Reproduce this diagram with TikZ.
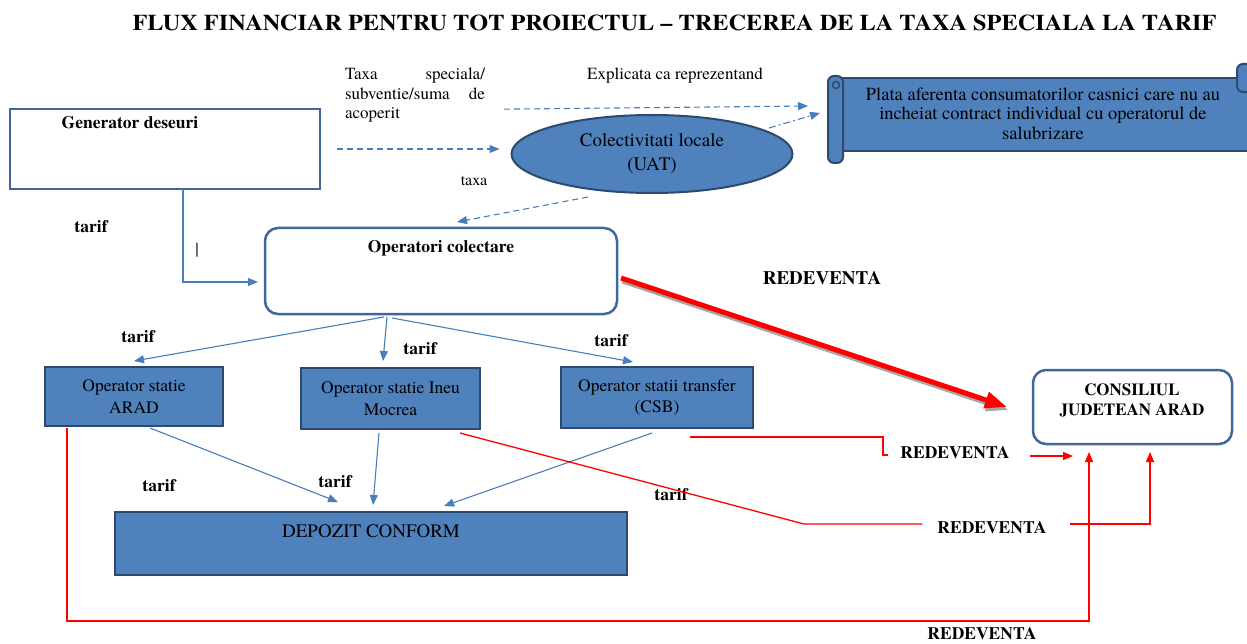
\documentclass[tikz,border=0pt]{standalone}
\usepackage{fontspec}
\setmainfont{TeX Gyre Termes}
\usepackage{graphicx}
\usetikzlibrary{shapes.geometric,arrows.meta}
\definecolor{boxblue}{HTML}{4F81BD}
\definecolor{boxedge}{HTML}{2C4A70}
\definecolor{roundedge}{HTML}{41669A}
\definecolor{lineblue}{HTML}{4A7EBB}
\definecolor{redline}{HTML}{FF0000}
\newcommand\fsz[2]{\fontsize{#1pt}{#2pt}\selectfont}
\tikzset{
  opbox/.style={draw=boxedge, fill=boxblue, line width=2.5pt, rectangle, inner sep=0pt, outer sep=0pt, align=center, font=\fsz{17.5}{21.5}},
  rbox/.style={draw=roundedge, line width=2.5pt, rounded corners=13pt, fill=white, rectangle, inner sep=0pt, outer sep=0pt},
  lbl/.style={inner sep=0pt, outer sep=0pt, font=\fsz{17.5}{21}\bfseries},
  txt/.style={inner sep=0pt, outer sep=0pt, font=\fsz{17}{19.5}},
  flow/.style={draw=lineblue, line width=1.1pt, -{Triangle[length=10pt,width=8pt]}},
  dflow/.style={flow, dash pattern=on 6pt off 4pt},
  ddflow/.style={flow, dash pattern=on 7pt off 3pt on 2pt off 3pt},
  rline/.style={draw=redline, line width=1.3pt},
  rflow/.style={rline, -{Triangle[length=10pt,width=8pt]}},
  scrollst/.style={draw=boxedge, fill=boxblue, line width=2pt},
}
\begin{document}
\begin{tikzpicture}[x=1pt,y=-1pt]
\useasboundingbox[fill=white] (0,0) rectangle (1247,644);

% title
\node[inner sep=0pt, font=\fsz{22.5}{26}\bfseries] (title) at (674.5,23)
  {\scalebox{1.08}[1]{FLUX FINANCIAR PENTRU TOT PROIECTUL – TRECEREA DE LA TAXA SPECIALA LA TARIF}};

% generator
\node[draw=roundedge, line width=2.5pt, rectangle, inner sep=0pt, outer sep=0pt,
      minimum width=310pt, minimum height=80pt, anchor=north west] (gen) at (10,109) {};
\node[lbl] (gentxt) at (130,123) {Generator deseuri};

% taxa paragraph
\node[txt, text width=140pt, align=left, anchor=north west] (tx) at (345,68)
  {Taxa\hfill speciala/\\subventie/suma\hfill de\\acoperit};
\node[txt] (expl) at (675,76) {Explicata ca reprezentand};
\node[txt, font=\fsz{16}{19}] (taxa) at (474,181) {taxa};

% UAT ellipse
\node[ellipse, draw=boxedge, fill=boxblue, line width=2pt, minimum width=281pt, minimum height=78pt,
      inner sep=0pt, outer sep=0pt, align=center, font=\fsz{19}{24}] (uat) at (652,154)
  {Colectivitati locale\\(UAT)};

% scroll
\node[minimum width=419pt, minimum height=87pt, anchor=north west, inner sep=0pt, outer sep=0pt] (scroll) at (828,76) {};
\draw[scrollst] (836,78) rectangle (1252,151);
\draw[scrollst, rounded corners=6pt] (1237,64) rectangle (1262,92);
\draw[scrollst, rounded corners=6pt] (828,76) rectangle (843,163);
\draw[draw=boxedge, line width=1.5pt] (836,85) circle (3.5pt);
\node[txt, align=center, font=\fsz{18.5}{19.5}] (plata) at (1043,113.5)
  {Plata aferenta consumatorilor casnici care nu au\\incheiat contract individual cu operatorul de\\salubrizare};

% operatori colectare
\node[rbox, minimum width=352pt, minimum height=86pt, anchor=north west] (opcol) at (265,228) {};
\node[lbl] (opcoltxt) at (441,248) {Operatori colectare};

% operator boxes
\node[opbox, minimum width=178pt, minimum height=59pt, anchor=north west] (arad) at (45,367) {Operator statie\\ARAD};
\node[opbox, minimum width=179pt, minimum height=61pt, anchor=north west] (ineu) at (301,368) {Operator statie Ineu\\Mocrea};
\node[opbox, minimum width=192pt, minimum height=61pt, anchor=north west] (csb) at (561,367) {Operator statii transfer\\(CSB)};

% depozit
\node[opbox, minimum width=512pt, minimum height=63pt, anchor=north west] (dep) at (115,512) {};
\node[txt, font=\fsz{19}{22}] (deptxt) at (371,531) {DEPOZIT CONFORM};

% consiliul
\node[rbox, minimum width=199pt, minimum height=74pt, anchor=north west] (cj) at (1033,370) {};
\node[lbl, align=center, font=\fsz{17}{19.5}\bfseries] (cjtxt) at (1132,400.5) {CONSILIUL\\JUDETEAN ARAD};

% labels
\node[lbl] (t1) at (91,227) {tarif};
\node[lbl] (t2) at (138,337) {tarif};
\node[lbl] (t3) at (420,349) {tarif};
\node[lbl] (t4) at (611,341) {tarif};
\node[lbl] (t5) at (159,486) {tarif};
\node[lbl] (t6) at (335,482) {tarif};
\node[lbl] (t7) at (671,495) {tarif};
\node[txt] (cursor) at (197,250) {|};
\node[lbl, font=\fsz{19}{22}\bfseries] (r1) at (822,278) {REDEVENTA};
\node[lbl] (r2) at (955,453) {REDEVENTA};
\node[lbl] (r3) at (992,528) {REDEVENTA};
\node[lbl] (r4) at (982,634) {REDEVENTA};

% dashed flows
\draw[dflow] ([xshift=17pt]gen.east) -- ([xshift=-12pt,yshift=5pt]uat.west);
\draw[dflow] ([xshift=19pt,yshift=-14pt]tx.east) -- ([xshift=-20pt,yshift=13.5pt]scroll.west);
\draw[ddflow] ([xshift=117pt,yshift=26pt]uat.center) -- ([xshift=-8pt,yshift=6.5pt]scroll.west);
\draw[dflow] ([xshift=-64pt,yshift=-4pt]uat.south) -- ([xshift=16pt,yshift=6pt]opcol.north);

% solid blue flows
\draw[flow] ([xshift=173pt]gen.south west) |- ([xshift=-7pt,yshift=-11pt]opcol.west);
\draw[flow] ([xshift=119pt,yshift=-3pt]opcol.south west) -- ([xshift=89pt,yshift=6pt]arad.north west);
\draw[flow] ([xshift=122pt,yshift=-3pt]opcol.south west) -- ([xshift=82pt,yshift=7pt]ineu.north west);
\draw[flow] ([xshift=127pt,yshift=-4pt]opcol.south west) -- ([xshift=72pt,yshift=5pt]csb.north west);
\draw[flow] ([xshift=105pt,yshift=-2pt]arad.south west) -- ([xshift=223pt,yshift=10pt]dep.north west);
\draw[flow] ([xshift=78pt,yshift=-4pt]ineu.south west) -- ([xshift=258pt,yshift=7pt]dep.north west);
\draw[flow] ([xshift=91pt,yshift=-5pt]csb.south west) -- ([xshift=329pt,yshift=6pt]dep.north west);

% big red arrow with shadow
\draw[line width=5pt, black!35, -{Triangle[length=22pt,width=16pt]}, transform canvas={xshift=1.5pt,yshift=-3pt}]
  ([xshift=4pt,yshift=-7pt]opcol.east) -- ([xshift=-26pt]cj.west);
\draw[line width=5pt, redline, -{Triangle[length=22pt,width=16pt]}]
  ([xshift=4pt,yshift=-7pt]opcol.east) -- ([xshift=-26pt]cj.west);

% red redeventa lines
\draw[rline] ([xshift=129pt,yshift=-9pt]csb.south west) -- ++(193,0) -- ++(0,18) -- ++(5,0);
\draw[rflow] ([xshift=20pt,yshift=-3pt]r2.east) -- ([xshift=40pt,yshift=-12pt]cj.south west);
\draw[rline] ([xshift=159pt,yshift=-4pt]ineu.south west) -- (804,524) -- ([xshift=-15pt,yshift=4pt]r3.west);
\draw[rflow] ([xshift=23pt,yshift=4pt]r3.east) -| ([xshift=117pt,yshift=-8pt]cj.south west);
\draw[rflow] ([xshift=22pt,yshift=-2pt]arad.south west) |- ([xshift=56pt,yshift=-177pt]cj.south west)
  -- ([xshift=56pt,yshift=-8pt]cj.south west);
\end{tikzpicture}
\end{document}
